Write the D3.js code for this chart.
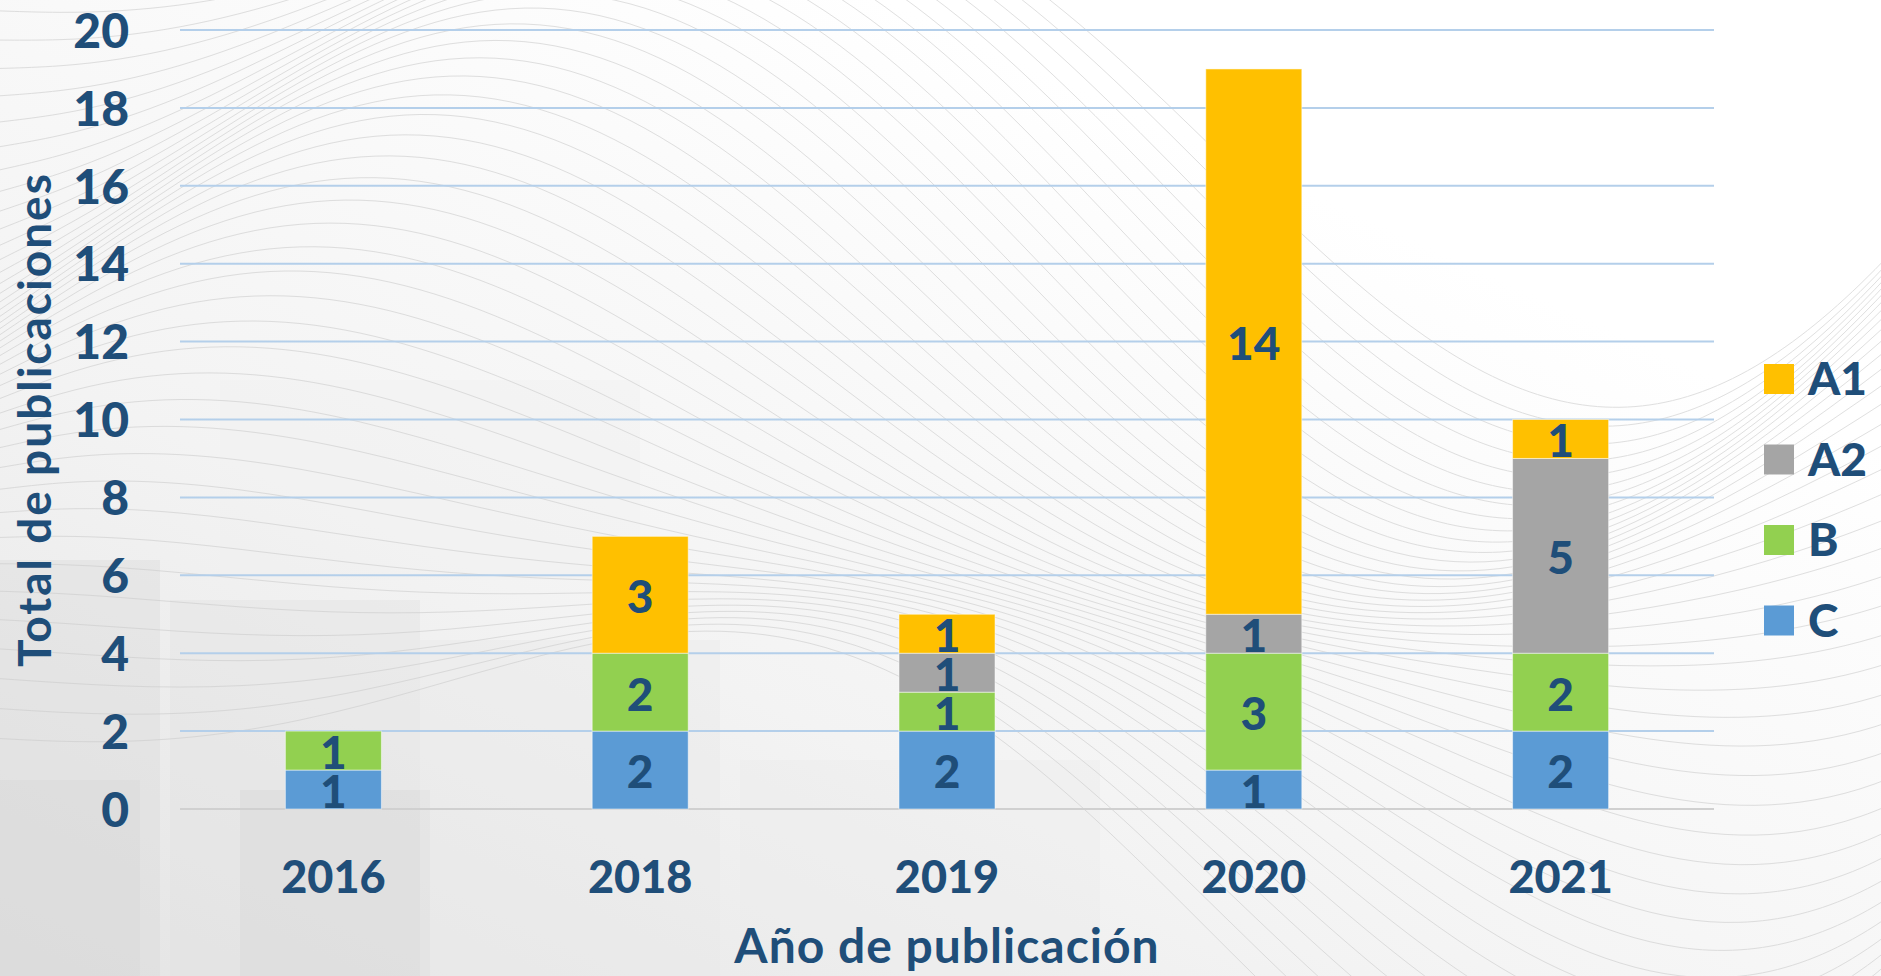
<!DOCTYPE html>
<html>
<head>
<meta charset="utf-8">
<script src="https://cdn.jsdelivr.net/npm/d3@7"></script>
<style>
    html, body { margin: 0; padding: 0; background: #fff; }
    svg { display: block; font-family: Lato, "Open Sans", sans-serif; font-weight: 700; }
</style>
</head>
<body>
<svg></svg>
<script>
// datos del grafico
var anios = ["2016", "2018", "2019", "2020", "2021"];
var series = ["C", "B", "A2", "A1"];
var valoresC = [1, 2, 2, 1, 2];
var valoresB = [1, 2, 1, 3, 2];
var valoresA2 = [0, 0, 1, 1, 5];
var valoresA1 = [0, 3, 1, 14, 1];
var ticksY = [0, 2, 4, 6, 8, 10, 12, 14, 16, 18, 20];
var leyenda = ["A1", "A2", "B", "C"];

var cores = { "A1": "#FFC000", "A2": "#A5A5A5", "B": "#92D050", "C": "#5B9BD5" };
var azulTexto = "#1F4E79";

var width = 1881, height = 976;

var svg = d3.select("svg")
    .attr("width", width)
    .attr("height", height);

// fondo: gris claro con lineas onduladas (decoracion)
var defs = svg.append("defs");
var grad = defs.append("linearGradient")
    .attr("id", "fondo")
    .attr("x1", "0").attr("y1", "1").attr("x2", "0.7").attr("y2", "0.2");
grad.append("stop").attr("offset", "0").attr("stop-color", "#e4e4e4");
grad.append("stop").attr("offset", "0.45").attr("stop-color", "#f3f3f3");
grad.append("stop").attr("offset", "1").attr("stop-color", "#ffffff");

svg.append("rect")
    .attr("width", width)
    .attr("height", height)
    .attr("fill", "url(#fondo)");

// bloques del edificio (abajo a la izquierda), muy tenues
var bloques = [
    [0, 560, 160, 420, "#dadada"], [170, 600, 250, 380, "#e0e0e0"],
    [240, 790, 190, 186, "#d6d6d6"], [420, 640, 300, 340, "#e8e8e8"],
    [0, 780, 140, 196, "#d8d8d8"], [740, 760, 360, 216, "#ebebeb"],
    [220, 380, 420, 200, "#efefef"]
];
svg.append("g").selectAll("rect")
    .data(bloques)
    .enter().append("rect")
    .attr("x", function (d) { return d[0]; })
    .attr("y", function (d) { return d[1]; })
    .attr("width", function (d) { return d[2]; })
    .attr("height", function (d) { return d[3]; })
    .attr("fill", function (d) { return d[4]; })
    .attr("opacity", 0.4);

var onda = d3.line().curve(d3.curveBasis);
var gOndas = svg.append("g")
    .attr("fill", "none")
    .attr("stroke", "#cccccc")
    .attr("stroke-width", 1)
    .attr("opacity", 0.6);
d3.range(44).forEach(function (i) {
    var pts = d3.range(0, width + 100, 60).map(function (x) {
        var t = x / width;
        return [x, 10 + i * 18 - 260 * Math.sin(t * Math.PI * 1.6 + 0.6) * (0.4 + t) + 80 * Math.sin(t * 9 + i * 0.15)];
    });
    gOndas.append("path").attr("d", onda(pts));
});

// escalas
var x = d3.scaleBand()
    .domain(anios)
    .range([180, 1714])
    .paddingInner(0.687)
    .paddingOuter(0.3435);

var y = d3.scaleLinear()
    .domain([0, 20])
    .range([809, 30]);

// lineas de cuadricula
svg.append("g")
    .selectAll("line")
    .data(ticksY)
    .enter().append("line")
    .attr("x1", 180)
    .attr("x2", 1714)
    .attr("y1", function (d) { return y(d); })
    .attr("y2", function (d) { return y(d); })
    .attr("stroke", function (d) { return d === 0 ? "#d0d0d0" : "#b4cfea"; })
    .attr("stroke-width", 2);

// eje Y
var ejeY = svg.append("g")
    .attr("transform", "translate(180,0)")
    .call(d3.axisLeft(y).tickValues(ticksY).tickSize(0).tickPadding(51));
ejeY.select(".domain").remove();
ejeY.selectAll("text")
    .attr("fill", azulTexto)
    .attr("font-size", 48)
    .attr("font-family", "Lato, sans-serif")
    .attr("font-weight", 900)
    .attr("dy", "0.36em");

// eje X
var ejeX = svg.append("g")
    .attr("transform", "translate(0,809)")
    .call(d3.axisBottom(x).tickSize(0).tickPadding(0));
ejeX.select(".domain").remove();
ejeX.selectAll("text")
    .attr("fill", azulTexto)
    .attr("font-size", 45)
    .attr("font-family", "Lato, sans-serif")
    .attr("font-weight", 900)
    .attr("dy", null)
    .attr("y", 84);

// barras apiladas
var tabla = anios.map(function (a, i) {
    return { anio: a, C: valoresC[i], B: valoresB[i], A2: valoresA2[i], A1: valoresA1[i] };
});
var pilas = d3.stack().keys(series)(tabla);

var gPilas = svg.append("g")
    .selectAll("g")
    .data(pilas)
    .enter().append("g")
    .attr("fill", function (d) { return cores[d.key]; });

gPilas.selectAll("rect")
    .data(function (d) { return d; })
    .enter().append("rect")
    .filter(function (d) { return d[1] - d[0] > 0; })
    .attr("x", function (d) { return x(d.data.anio); })
    .attr("width", x.bandwidth())
    .attr("y", function (d) { return y(d[1]); })
    .attr("height", function (d) { return y(d[0]) - y(d[1]); })
    .attr("stroke", "rgba(255,255,255,0.5)")
    .attr("stroke-width", 1);

// etiquetas de datos
gPilas.selectAll("text")
    .data(function (d) { return d; })
    .enter().append("text")
    .filter(function (d) { return d[1] - d[0] > 0; })
    .attr("x", function (d) { return x(d.data.anio) + x.bandwidth() / 2; })
    .attr("y", function (d) { return (y(d[0]) + y(d[1])) / 2; })
    .attr("dy", "0.4em")
    .attr("text-anchor", "middle")
    .attr("fill", azulTexto)
    .attr("font-size", 46)
    .attr("font-weight", 900)
    .text(function (d) { return d[1] - d[0]; });

// titulos de ejes
svg.append("text")
    .attr("x", (180 + 1714) / 2)
    .attr("y", 963)
    .attr("text-anchor", "middle")
    .attr("fill", azulTexto)
    .attr("font-size", 48)
    .attr("letter-spacing", 1)
    .text("Año de publicación");

svg.append("text")
    .attr("transform", "translate(51," + (30 + 809) / 2 + ") rotate(-90)")
    .attr("text-anchor", "middle")
    .attr("fill", azulTexto)
    .attr("font-size", 46)
    .attr("letter-spacing", 2)
    .text("Total de publicaciones");

// leyenda
var gLeyenda = svg.append("g")
    .selectAll("g")
    .data(leyenda)
    .enter().append("g")
    .attr("transform", function (d, i) { return "translate(1764," + (364 + i * 80.5) + ")"; });

gLeyenda.append("rect")
    .attr("width", 30)
    .attr("height", 30)
    .attr("fill", function (d) { return cores[d]; });

gLeyenda.append("text")
    .attr("x", 44)
    .attr("y", 31)
    .attr("fill", azulTexto)
    .attr("font-size", 46)
    .attr("font-weight", 900)
    .text(function (d) { return d; });
</script>
</body>
</html>
